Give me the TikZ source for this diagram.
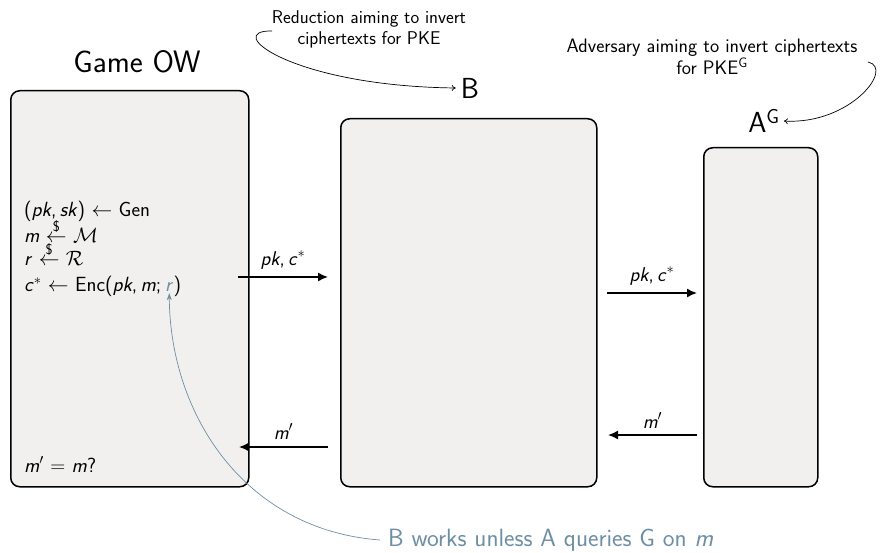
\documentclass[tikz,border=0pt]{standalone}
\usepackage{amsmath}
\usetikzlibrary{arrows.meta}
\definecolor{boxfill}{RGB}{241,240,238}
\definecolor{notec}{RGB}{110,142,163}
\newcommand\vv[1]{\textit{#1}}
\tikzset{
  gamebox/.style={draw=black, line width=1.5pt, rounded corners=9pt, fill=boxfill, inner sep=0pt, anchor=north west},
  bigtitle/.style={font=\sffamily\fontsize{31}{35}\selectfont, inner sep=2pt},
  boxtext/.style={font=\sffamily\fontsize{20.5}{24}\selectfont, inner sep=0pt, anchor=base west},
  msglabel/.style={font=\sffamily\fontsize{20}{24}\selectfont, inner sep=0pt},
  msg/.style={-{Latex[length=10pt,width=9pt]}, line width=1.5pt},
  anntext/.style={font=\sffamily\fontsize{18.5}{21}\selectfont, align=center, inner sep=0pt},
  annarrow/.style={-{To[length=4pt,width=6pt]}, line width=0.7pt},
  notetext/.style={font=\sffamily\fontsize{25}{29}\selectfont, text=notec, inner sep=0pt, anchor=west},
  notearrow/.style={-{Stealth[length=7pt,width=5pt]}, line width=0.7pt, draw=notec},
}
\begin{document}
\begin{tikzpicture}[x=1pt,y=-1pt]
\useasboundingbox (0,0) rectangle (881,553);
% boxes
\node[gamebox, minimum width=238pt, minimum height=396pt] (game) at (10,90) {};
\node[gamebox, minimum width=256pt, minimum height=368pt] (red) at (340,118) {};
\node[gamebox, minimum width=114pt, minimum height=339pt] (adv) at (703,147) {};
% titles
\node[bigtitle] (tgame) at (137,62) {Game OW};
\node[bigtitle, font=\sffamily\fontsize{29}{33}\selectfont] (tB) at (470,88) {B};
\node[bigtitle, font=\sffamily\fontsize{29}{33}\selectfont] (tA) at (764,121) {A$^{\text{G}}$};
% game text
\node[boxtext] (g1) at (24,217) {(\vv{pk},\,\vv{sk}) $\leftarrow$ Gen};
\node[boxtext] (g2) at (24,243) {\vv{m} $\overset{\text{\$}}{\leftarrow}$ $\mathcal{M}$};
\node[boxtext] (g3) at (24,266) {\vv{r} $\overset{\text{\$}}{\leftarrow}$ $\mathcal{R}$};
\node[boxtext] (g4) at (24,292) {\vv{c}$^*$ $\leftarrow$ Enc(\vv{pk},\,\vv{m};\,};
\node[boxtext] (rr) at (g4.base east) {\textcolor{notec}{\vv{r}}};
\node[boxtext] (g4b) at (rr.base east) {)};
\node[boxtext] (g5) at (24,472) {\vv{m}$'$ $=$ \vv{m}?};
% message arrows
\coordinate (a1s) at (238,277);
\coordinate (a1e) at (328,277);
\coordinate (a2s) at (328,447);
\coordinate (a2e) at (239,447);
\coordinate (a3s) at (607,293);
\coordinate (a3e) at (697,293);
\coordinate (a4s) at (697,435);
\coordinate (a4e) at (608,435);
\draw[msg] (a1s) -- node[msglabel, above=7pt] (m1) {\vv{pk},\,\vv{c}$^*$} (a1e);
\draw[msg] (a2s) -- node[msglabel, above=7pt] (m2) {\vv{m}$'$} (a2e);
\draw[msg] (a3s) -- node[msglabel, above=7pt] (m3) {\vv{pk},\,\vv{c}$^*$} (a3e);
\draw[msg] (a4s) -- node[msglabel, above=6pt] (m4) {\vv{m}$'$} (a4e);
% annotations
\node[anntext] (n1) at (369,29) {Reduction aiming to invert\\ciphertexts for PKE};
\node[anntext, font=\sffamily\fontsize{19.5}{21}\selectfont] (n2) at (712,57) {Adversary aiming to invert ciphertexts\\for PKE$^{\text{G}}$};
\coordinate (c1) at (272,31);
\coordinate (c2) at (868,62);
\draw[annarrow] (c1) .. controls (222,30) and (290,86) .. ([xshift=-3pt]tB.west);
\draw[annarrow] (c2) .. controls (895,68) and (850,125) .. ([xshift=2pt]tA.east);
% bottom note
\node[notetext] (bn) at (388,540) {B works unless A queries G on \vv{m}};
\draw[notearrow] ([xshift=-8pt]bn.west) .. controls (245,530) and (170,415) .. ([yshift=-1pt]rr.south);
\end{tikzpicture}
\end{document}
